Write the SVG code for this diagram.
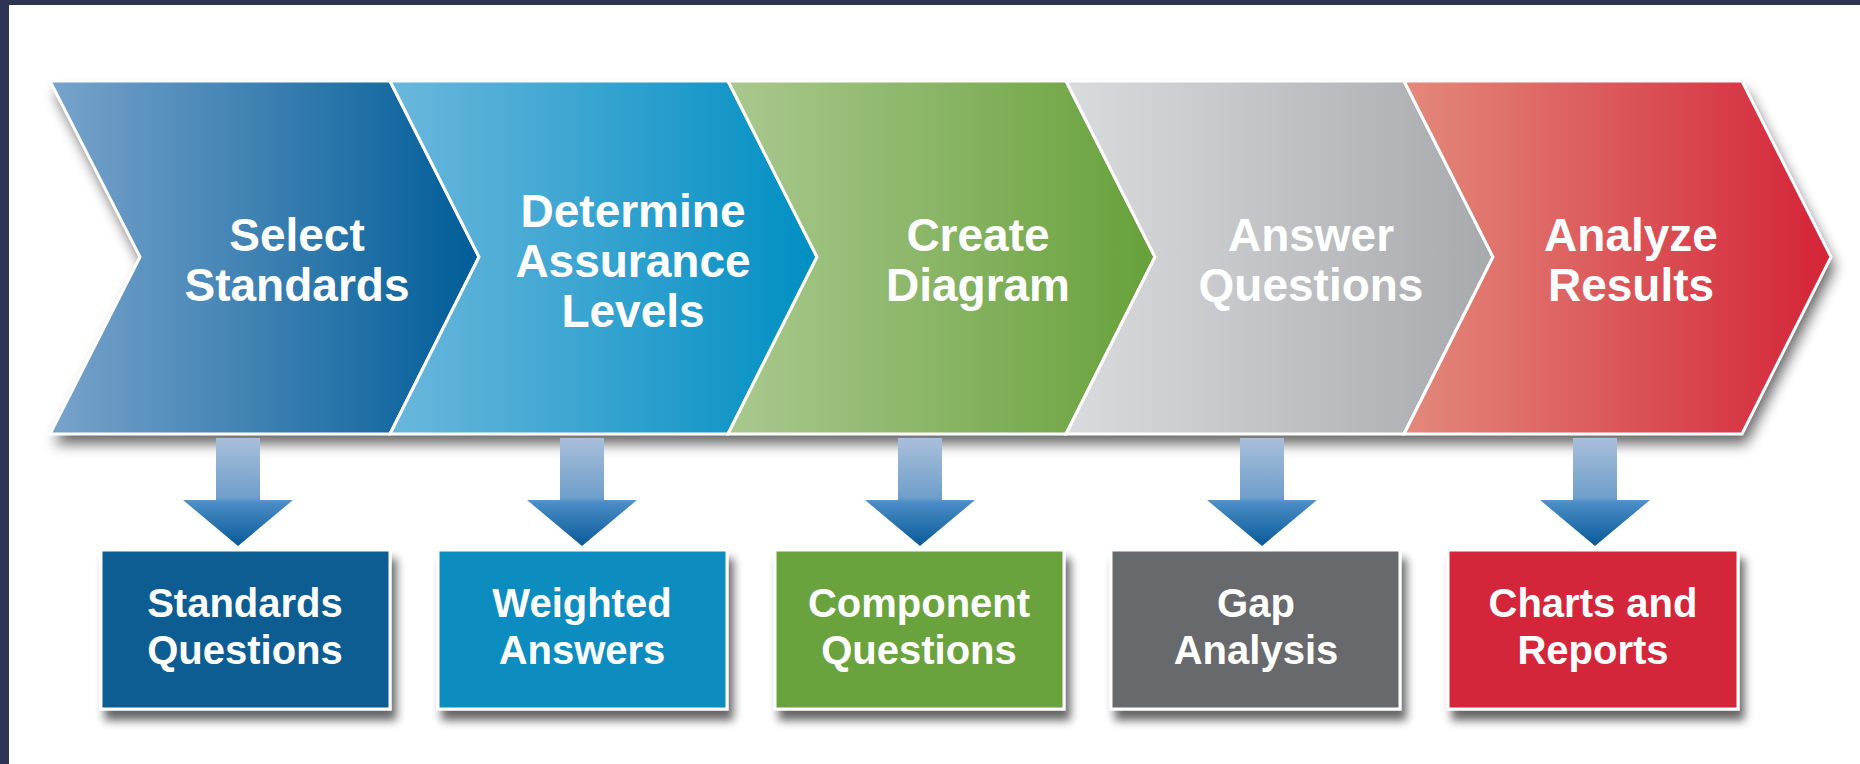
<svg xmlns="http://www.w3.org/2000/svg" width="1860" height="764" viewBox="0 0 1860 764">
  <style>
    .ct { font-family: "Liberation Sans", Arial, sans-serif; font-weight: bold; font-size: 46px; fill: #ffffff; text-anchor: middle; }
    .bt { font-family: "Liberation Sans", Arial, sans-serif; font-weight: bold; font-size: 40px; fill: #ffffff; text-anchor: middle; }
    .chev { stroke: #ffffff; stroke-width: 3; stroke-linejoin: miter; }
    .box { stroke: #ffffff; stroke-width: 3; }
  </style>
  <defs>
    <linearGradient id="g1" x1="0" y1="0" x2="1" y2="0"><stop offset="0" stop-color="#78a3cb"/><stop offset="1" stop-color="#005d98"/></linearGradient>
    <linearGradient id="g2" x1="0" y1="0" x2="1" y2="0"><stop offset="0" stop-color="#6bb7dc"/><stop offset="1" stop-color="#008fc3"/></linearGradient>
    <linearGradient id="g3" x1="0" y1="0" x2="1" y2="0"><stop offset="0" stop-color="#aac88f"/><stop offset="1" stop-color="#67a13a"/></linearGradient>
    <linearGradient id="g4" x1="0" y1="0" x2="1" y2="0"><stop offset="0" stop-color="#dadbdd"/><stop offset="1" stop-color="#a7a9ac"/></linearGradient>
    <linearGradient id="g5" x1="0" y1="0" x2="1" y2="0"><stop offset="0" stop-color="#e3897b"/><stop offset="1" stop-color="#d42438"/></linearGradient>
    <linearGradient id="ga" x1="0" y1="0" x2="0" y2="1">
      <stop offset="0" stop-color="#a9bfda"/>
      <stop offset="0.55" stop-color="#6f9fcb"/>
      <stop offset="0.6" stop-color="#4a8cc6"/>
      <stop offset="1" stop-color="#085a98"/>
    </linearGradient>
    <filter id="sh" x="-10%" y="-30%" width="120%" height="170%">
      <feGaussianBlur in="SourceAlpha" stdDeviation="7"/>
      <feOffset dx="4" dy="10" result="b"/>
      <feComponentTransfer in="b"><feFuncA type="linear" slope="0.6"/></feComponentTransfer>
      <feMerge><feMergeNode/><feMergeNode in="SourceGraphic"/></feMerge>
    </filter>
    <filter id="shb" x="-20%" y="-20%" width="140%" height="150%">
      <feGaussianBlur in="SourceAlpha" stdDeviation="5"/>
      <feOffset dx="5" dy="10" result="b"/>
      <feComponentTransfer in="b"><feFuncA type="linear" slope="0.6"/></feComponentTransfer>
      <feMerge><feMergeNode/><feMergeNode in="SourceGraphic"/></feMerge>
    </filter>
    <path id="arrow" d="M-22,0 H22 V62 H55 L0,108 L-55,62 H-22 Z" fill="url(#ga)"/>
  </defs>

  <!-- background and frame -->
  <rect x="0" y="0" width="1860" height="764" fill="#ffffff"/>
  <rect x="0" y="0" width="1860" height="5" fill="#2c3452"/>
  <rect x="0" y="0" width="9" height="764" fill="#2e3454"/>

  <!-- band shadow -->
  <polygon points="50,81 1742,81 1831,257 1742,434 50,434 140,257" fill="#ffffff" filter="url(#sh)"/>

  <g id="step1">
    <polygon class="chev" points="50,81 390,81 479,257 390,434 50,434 140,257" fill="url(#g1)"/>
    <text class="ct" x="297" y="251">Select</text>
    <text class="ct" x="297" y="301">Standards</text>
  </g>
  <g id="step2">
    <polygon class="chev" points="390,81 728,81 817,257 728,434 390,434 479,257" fill="url(#g2)"/>
    <text class="ct" x="633" y="227">Determine</text>
    <text class="ct" x="633" y="277">Assurance</text>
    <text class="ct" x="633" y="327">Levels</text>
  </g>
  <g id="step3">
    <polygon class="chev" points="728,81 1066,81 1155,257 1066,434 728,434 817,257" fill="url(#g3)"/>
    <text class="ct" x="978" y="251">Create</text>
    <text class="ct" x="978" y="301">Diagram</text>
  </g>
  <g id="step4">
    <polygon class="chev" points="1066,81 1404,81 1493,257 1404,434 1066,434 1155,257" fill="url(#g4)"/>
    <text class="ct" x="1311" y="251">Answer</text>
    <text class="ct" x="1311" y="301">Questions</text>
  </g>
  <g id="step5">
    <polygon class="chev" points="1404,81 1742,81 1831,257 1742,434 1404,434 1493,257" fill="url(#g5)"/>
    <text class="ct" x="1631" y="251">Analyze</text>
    <text class="ct" x="1631" y="301">Results</text>
  </g>

  <g id="connectors">
    <use href="#arrow" transform="translate(238,438)"/>
    <use href="#arrow" transform="translate(582,438)"/>
    <use href="#arrow" transform="translate(920,438)"/>
    <use href="#arrow" transform="translate(1262,438)"/>
    <use href="#arrow" transform="translate(1595,438)"/>
  </g>

  <g id="out1">
    <rect class="box" x="101" y="550" width="289" height="159" fill="#0a5d92" filter="url(#shb)"/>
    <text class="bt" x="245" y="617">Standards</text>
    <text class="bt" x="245" y="664">Questions</text>
  </g>
  <g id="out2">
    <rect class="box" x="438" y="550" width="289" height="159" fill="#118cc0" filter="url(#shb)"/>
    <text class="bt" x="582" y="617">Weighted</text>
    <text class="bt" x="582" y="664">Answers</text>
  </g>
  <g id="out3">
    <rect class="box" x="775" y="550" width="289" height="159" fill="#6aa33d" filter="url(#shb)"/>
    <text class="bt" x="919" y="617">Component</text>
    <text class="bt" x="919" y="664">Questions</text>
  </g>
  <g id="out4">
    <rect class="box" x="1111" y="550" width="289" height="159" fill="#68696d" filter="url(#shb)"/>
    <text class="bt" x="1256" y="617">Gap</text>
    <text class="bt" x="1256" y="664">Analysis</text>
  </g>
  <g id="out5">
    <rect class="box" x="1448" y="550" width="290" height="159" fill="#d4253b" filter="url(#shb)"/>
    <text class="bt" x="1593" y="617">Charts and</text>
    <text class="bt" x="1593" y="664">Reports</text>
  </g>
</svg>
